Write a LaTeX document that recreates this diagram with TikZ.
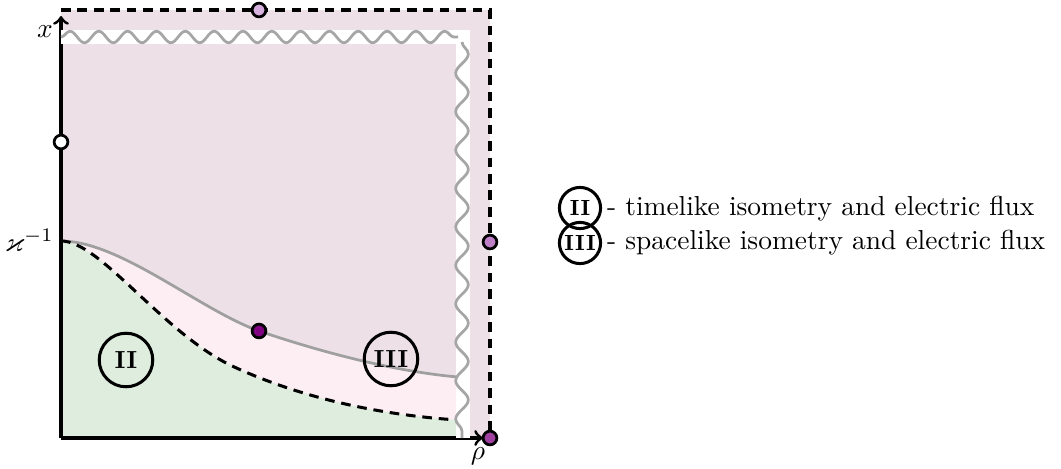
\documentclass[tikz,border=0pt]{standalone}
\usepackage{amsmath}
\usepackage{amssymb}
\usetikzlibrary{decorations.pathmorphing}
\definecolor{bulkfill}{HTML}{EDE0E6}
\definecolor{midfill}{HTML}{FDEEF3}
\definecolor{corefill}{HTML}{DFEDDF}
\definecolor{dotlight}{HTML}{D9B3E0}
\definecolor{dotmid}{HTML}{C080C8}
\definecolor{dotdark}{HTML}{800080}
\definecolor{dotcorner}{HTML}{A040A0}

\begin{document}
\begin{tikzpicture}[x=0.0128cm, y=-0.0128cm,
  axis/.style={black, line width=1.1pt},
  bound/.style={black, line width=1.1pt, dash pattern=on 3.5pt off 2.5pt},
  curve/.style={gray!75, line width=1pt},
  wavy/.style={gray!70, line width=1pt, decorate,
    decoration={snake, segment length=10.5pt, amplitude=2.1pt}},
  band/.style={white, line width=5pt},
  region/.style={circle, draw=black, line width=1.1pt, inner sep=0pt, minimum size=19.5pt, font=\bfseries\small},
  key/.style={region, minimum size=15pt, font=\bfseries\footnotesize},
  bdot/.style={circle, draw=black, line width=1pt, inner sep=0pt, minimum size=5pt}]
\useasboundingbox (0,0) rectangle (1061,468);
%\node {\includegraphics{penrose.png}};

% corners and curve ends
\coordinate (O) at (61,438);
\coordinate (K) at (61,241);
\coordinate (TL) at (61,10);
\coordinate (TR) at (490,10);
\coordinate (BR) at (490,438);
\coordinate (Gend) at (458,377);
\coordinate (Dend) at (458,420);

% regions
\fill[bulkfill] (TL) rectangle (BR);
\fill[midfill] (K) .. controls (120,241) and (200,310) .. (259,331)
  .. controls (330,355) and (400,372) .. (Gend) -- (458,438) -- (O) -- cycle;
\fill[corefill] (K) .. controls (100,241) and (160,330) .. (230,365)
  .. controls (300,398) and (380,415) .. (Dend) -- (458,438) -- (O) -- cycle;

% curves
\draw[curve] (K) .. controls (120,241) and (200,310) .. (259,331)
  .. controls (330,355) and (400,372) .. (Gend);
\draw[bound] (K) .. controls (100,241) and (160,330) .. (230,365)
  .. controls (300,398) and (380,415) .. (Dend);

% axes
\draw[axis, ->] (O) -- (61,16);
\draw[axis, ->] (O) -- (483,438);

% singularity
\draw[band] (61,37) -- (463,37) -- (463,438);
\draw[wavy] (61,37) -- (458,37);
\draw[wavy, decoration={segment length=14pt, amplitude=2.3pt}] (462,42) -- (462,438);

% outer boundary
\draw[bound] (TL) -- (TR) -- (BR);

% points
\node[bdot, fill=white] (pw) at (61,142) {};
\node[bdot, fill=dotlight] (ptop) at (259,10) {};
\node[bdot, fill=dotmid] (pright) at (490,242) {};
\node[bdot, fill=dotdark] (pmid) at (259,331) {};
\node[bdot, fill=dotcorner] (pcorner) at (490,438) {};

% labels
\node[anchor=east, inner sep=1pt] (lx) at (56,32) {$x$};
\node[anchor=east, inner sep=1pt] (lk) at (57,240) {$\varkappa^{-1}$};
\node (lrho) at (478,456) {$\rho$};

% region marks
\node[region] (rII) at (126,360) {II};
\node[region] (rIII) at (391,359) {III};

% legend
\node[key] (kII) at (580,208) {II};
\node[anchor=west, inner sep=2pt] (tII) at (601,209) {- timelike isometry and electric flux};
\node[key] (kIII) at (580,243) {III};
\node[anchor=west, inner sep=2pt] (tIII) at (601,243) {- spacelike isometry and electric flux};
\end{tikzpicture}
\end{document}
